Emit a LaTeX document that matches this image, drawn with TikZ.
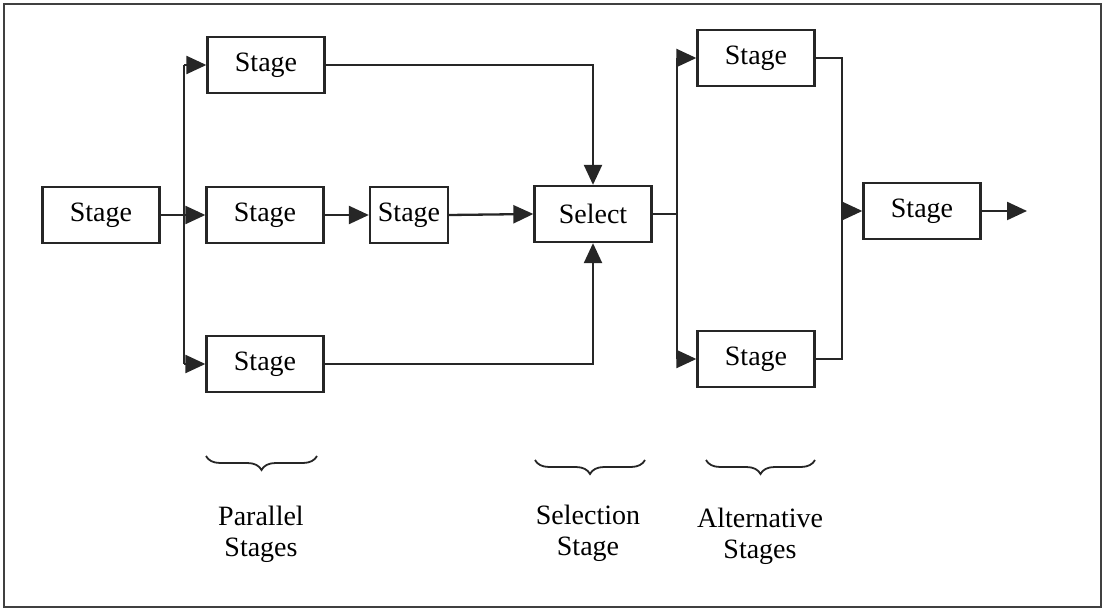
\documentclass[tikz,border=0pt]{standalone}
\usepackage{fontspec}
\setmainfont{Liberation Serif}
\usetikzlibrary{arrows.meta,decorations.pathreplacing}
\begin{document}
\begin{tikzpicture}[x=1pt,y=-1pt,
  box/.style={draw=black!85,line width=2.3pt,minimum width=117pt,minimum height=56pt,inner sep=0pt,font=\fontsize{28}{30}\selectfont},
  conn/.style={draw=black!85,line width=2.3pt},
  arr/.style={conn,-{Triangle[length=20pt,width=18pt]}},
  brc/.style={draw=black!85,line width=1.8pt,decorate,decoration={brace,mirror,amplitude=14pt}},
  lbl/.style={align=center,font=\fontsize{28}{31}\selectfont}]
\useasboundingbox (0,0) rectangle (1106,612);
\draw[line width=2pt,black!75] (4,4) rectangle (1101,607);
% nodes
\node[box] (s0) at (101,215) {Stage};
\node[box] (p1) at (266,65) {Stage};
\node[box] (p2) at (265,215) {Stage};
\node[box] (p3) at (265,364) {Stage};
\node[box,minimum width=78pt] (s4) at (409,215) {Stage};
\node[box] (sel) at (593,214) {Select};
\node[box] (a1) at (756,58) {Stage};
\node[box] (a2) at (756,359) {Stage};
\node[box] (fin) at (922,211) {Stage};
\coordinate (b1) at (184,0);
\coordinate (b2) at (677,0);
\coordinate (b3) at (842,0);
\coordinate (out) at (1027,211);
% parallel
\draw[arr] (s0.east) -- (p2.west);
\draw[conn] (b1 |- p1.west) -- (b1 |- p3.west);
\draw[arr] (b1 |- p1.west) -- (p1.west);
\draw[arr] (b1 |- p3.west) -- (p3.west);
\draw[arr] (p2.east) -- (s4.west);
\draw[arr] (s4.east) -- (sel.west);
\draw[arr] (p1.east) -| (sel.north);
\draw[arr] (p3.east) -| (sel.south);
% alternative
\draw[conn] (sel.east) -- (b2 |- sel.east);
\draw[conn] (b2 |- a1.west) -- (b2 |- a2.west);
\draw[arr] (b2 |- a1.west) -- (a1.west);
\draw[arr] (b2 |- a2.west) -- (a2.west);
\draw[conn] (a1.east) -- (b3 |- a1.east) -- (b3 |- a2.east) -- (a2.east);
\draw[arr] (b3 |- fin.west) -- (fin.west);
\draw[arr] (fin.east) -- (out);
% braces
\draw[brc] (206,456) -- (317,456);
\draw[brc] (535,460) -- (645,460);
\draw[brc] (706,460) -- (815,460);
\node[lbl] (l1) at (261,534) {Parallel\\Stages};
\node[lbl] (l2) at (588,533) {Selection\\Stage};
\node[lbl] (l3) at (760,536) {Alternative\\Stages};
\end{tikzpicture}
\end{document}
